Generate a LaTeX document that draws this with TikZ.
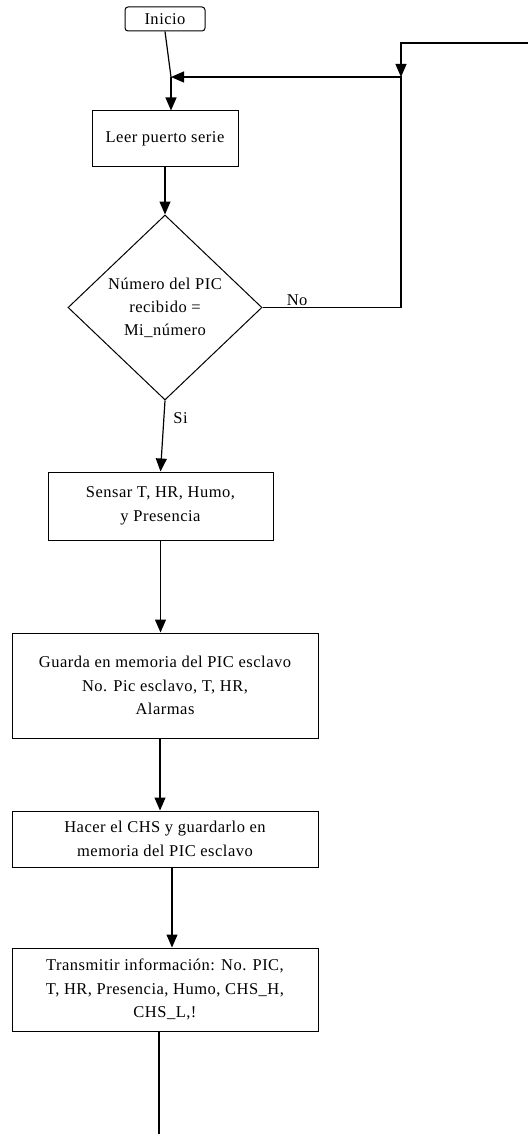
\documentclass[tikz,border=0pt]{standalone}
\usepackage{fontspec}
\setmainfont{Liberation Serif}[LetterSpace=3]
\usepackage{tikz}
\usetikzlibrary{arrows.meta,shapes.geometric}
\tikzset{proc/.style = {shape = rectangle, draw, line width = 1pt, align = center, inner sep = 0pt,
  font = \fontsize{16.5}{23.5}\selectfont}}
\tikzset{inicio/.style = {proc, rounded corners = 3pt}}
\tikzset{decision/.style = {shape = diamond, draw, line width = 1pt, align = center, inner sep = 0pt,
  font = \fontsize{16.5}{23}\selectfont}}
\tikzset{edge/.style = {-{Triangle[length = 13pt, width = 11pt]}, line width = 1.2pt}}
\tikzset{lbl/.style = {font = \fontsize{16.5}{18}\selectfont, inner sep = 1pt}}

\begin{document}
\begin{tikzpicture}[x = 1pt, y = -1pt]
			\useasboundingbox (0, 0) rectangle (528, 1134);

			\node[inicio, minimum width = 80pt, minimum height = 24pt] (ini) at (165, 19) {Inicio};
			\node[proc, minimum width = 146pt, minimum height = 56pt] (leer) at (165, 139) {Leer puerto serie};
			\node[decision, minimum width = 194pt, minimum height = 185pt] (pic) at (165, 307.5)
				{Número del PIC\\recibido =\\Mi\_número};
			\node[proc, minimum width = 225pt, minimum height = 68pt] (sensar) at (160.5, 506)
				{Sensar T, HR, Humo,\\y Presencia};
			\node[proc, minimum width = 306pt, minimum height = 105pt] (guarda) at (165, 685.5)
				{Guarda en memoria del PIC esclavo\\No. Pic esclavo, T, HR,\\Alarmas};
			\node[proc, minimum width = 306pt, minimum height = 56pt] (hacer) at (165, 839)
				{Hacer el CHS y guardarlo en\\memoria del PIC esclavo};
			\node[proc, minimum width = 306pt, minimum height = 83pt] (trans) at (165, 989.5)
				{Transmitir información: No. PIC,\\T, HR, Presencia, Humo, CHS\_H,\\CHS\_L,!};

			\coordinate (merge) at (171, 77);
			\coordinate (join) at (401, 77);
			\coordinate (corner) at (401, 43);
			\coordinate (entrada) at (528, 43);
			\coordinate (nocorner) at (401, 307.5);
			\coordinate (fin) at (159, 1134);

			\draw[line width = 1.2pt] (ini.south) to (merge);
			\draw[edge] (merge) to (merge |- leer.north);
			\draw[edge] (leer.south) to (pic.north);
			\draw[edge] (entrada) -- (corner) -- (join);
			\draw[edge] (pic.east) -- node[lbl, above, pos = 0.25] {No} (nocorner) -- (join) -- (merge);
			\draw[edge] (pic.south) to node[lbl, right, pos = 0.25, xshift = 8pt] {Si} (sensar.north);
			\draw[edge] (sensar.south) to (sensar.south |- guarda.north);
			\draw[edge] ([xshift = -5pt]guarda.south) to ([xshift = -5pt]hacer.north);
			\draw[edge] ([xshift = 7pt]hacer.south) to ([xshift = 7pt]trans.north);
			\draw[line width = 1.2pt] ([xshift = -6pt]trans.south) to (fin);
		\end{tikzpicture}
\end{document}
